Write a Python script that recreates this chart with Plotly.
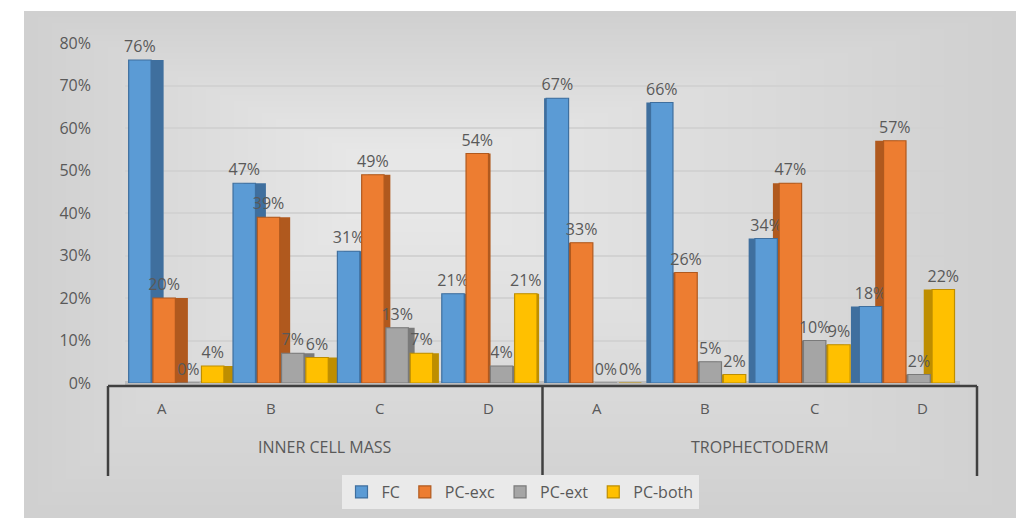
import plotly.graph_objects as go

group_names = ["INNER CELL MASS", "TROPHECTODERM"]
grade_names = ["A", "B", "C", "D"]
groups = [g for g in group_names for _ in grade_names]
grades = grade_names * 2

fc = [76, 47, 31, 21, 67, 66, 34, 18]
pc_exc = [20, 39, 49, 54, 33, 26, 47, 57]
pc_ext = [0, 7, 13, 4, 0, 5, 10, 2]
pc_both = [4, 6, 7, 21, 0, 2, 9, 22]

series = [
    ("FC", fc, "#5B9BD5", "#3F6F9E"),
    ("PC-exc", pc_exc, "#ED7D31", "#B0591E"),
    ("PC-ext", pc_ext, "#A5A5A5", "#7A7A7A"),
    ("PC-both", pc_both, "#FFC000", "#BE8E00"),
]

# perspective shift of the side faces per category (fraction of category width)
side_shift = [0.12, 0.10, 0.06, 0.02, -0.02, -0.04, -0.06, -0.08]

# plot area in pixels
L, R, T, B = 108, 977, 43, 383
W, H = R - L, B - T


def px(x):
    return (x - L) / W


def py(y):
    return (B - y) / H


FONT = "Open Sans, Arial"
GREY = "#595959"
SLOT = 0.2325
BW = 0.215

fig = go.Figure()
# side faces (drawn first, behind)
for s, (name, vals, col, edge) in enumerate(series):
    off = -0.465 + s * SLOT
    fig.add_trace(go.Bar(
        x=[groups, grades], y=vals, name=name, showlegend=False,
        offset=[off + sh for sh in side_shift], width=BW,
        marker=dict(color=edge, line=dict(width=0)),
        hoverinfo="skip",
    ))
# front faces with labels
for s, (name, vals, col, edge) in enumerate(series):
    off = -0.465 + s * SLOT
    fig.add_trace(go.Bar(
        x=[groups, grades], y=vals, name=name,
        offset=off, width=BW,
        text=[f"{v}%" for v in vals], textposition="outside",
        constraintext="none",
        textfont=dict(family=FONT, size=16, color=GREY),
        marker=dict(color=col, line=dict(color=edge, width=1.2)),
        cliponaxis=False,
    ))

shapes = [dict(type="rect", xref="paper", yref="paper",
               x0=px(24), x1=px(1016), y0=py(518), y1=py(11),
               fillcolor="#CFCFCF", line=dict(width=0), layer="below")]
for k in range(24):
    shapes.append(dict(type="rect", xref="paper", yref="paper",
                       x0=px(24 + k * 14), x1=px(1016 - k * 24),
                       y0=py(518 - k * 13), y1=py(11 + k * 6),
                       fillcolor="white", opacity=0.04, line=dict(width=0),
                       layer="below"))
# category axis line and dividers
shapes.append(dict(type="line", xref="paper", yref="paper",
                   x0=0, x1=1, y0=py(386), y1=py(386),
                   line=dict(color="#404040", width=2.5)))
for xd in [0, 0.5, 1]:
    shapes.append(dict(type="line", xref="paper", yref="paper",
                       x0=xd, x1=xd, y0=py(386), y1=py(476),
                       line=dict(color="#404040", width=2.5)))

annotations = []
for i, g in enumerate(grades):
    annotations.append(dict(text=g, xref="paper", yref="paper",
                            x=(i + 0.5) / 8, y=py(408), showarrow=False,
                            xanchor="center", yanchor="middle",
                            font=dict(family=FONT, size=15, color=GREY)))
for j, g in enumerate(group_names):
    annotations.append(dict(text=g, xref="paper", yref="paper",
                            x=(j + 0.5) / 2, y=py(447), showarrow=False,
                            xanchor="center", yanchor="middle",
                            font=dict(family=FONT, size=16, color=GREY)))

fig.update_layout(
    width=1016, height=518,
    margin=dict(l=L, r=1016 - R, t=T, b=518 - B, autoexpand=False),
    paper_bgcolor="white",
    plot_bgcolor="rgba(0,0,0,0)",
    barmode="overlay",
    font=dict(family=FONT, color=GREY, size=15),
    showlegend=True,
    legend=dict(orientation="h", x=px(520), xanchor="center",
                y=py(475), yanchor="top",
                bgcolor="#EAEAEA", font=dict(size=16, color=GREY),
                itemwidth=30, traceorder="normal"),
    shapes=shapes,
    annotations=annotations,
)
fig.update_yaxes(range=[0, 80], dtick=10, ticksuffix="%", showgrid=True,
                 gridcolor="#D2D2D2", gridwidth=1.5,
                 zeroline=True, zerolinecolor="#BDBDBD", zerolinewidth=5,
                 showline=False, ticklabelstandoff=33,
                 tickfont=dict(family=FONT, size=16, color=GREY))
fig.update_xaxes(domain=[px(125), px(960)], showline=False,
                 showticklabels=False, showdividers=False, ticks="")

fig.write_html("out.html")
